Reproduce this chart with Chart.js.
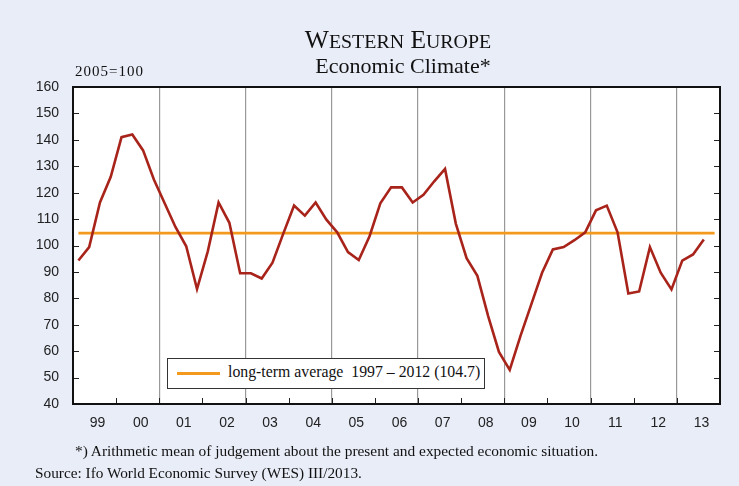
<!DOCTYPE html>
<html>
<head>
  <meta charset="utf-8">
  <title>Western Europe Economic Climate</title>
  <script src="https://cdn.jsdelivr.net/npm/chart.js"></script>
  <style>
    body { margin: 0; background: #e9edf8; }
    #wrap { position: relative; width: 739px; height: 486px; overflow: hidden; }
    canvas { position: absolute; left: 0; top: 0; }
    .txt { position: absolute; font-family: "Liberation Serif", "Times New Roman", serif; color: #111; white-space: nowrap; }
    #title1 { left: 248px; width: 300px; top: 25px; font-size: 25.5px; text-align: center; }
    #title1 .sc { font-size: 0.78em; }
    #title2 { left: 253px; width: 300px; top: 53px; font-size: 22px; text-align: center; }
    #unit { left: 75px; top: 63px; font-size: 15px; letter-spacing: 1px; }
    #note { left: 75px; top: 442px; font-size: 15.4px; }
    #source { left: 35px; top: 464px; font-size: 15.3px; }
    #legend { position: absolute; left: 167px; top: 358px; width: 316px; height: 29px; border: 1px solid #333; background: #fff; }
    #legend .swatch { position: absolute; left: 9px; top: 13px; width: 43px; height: 3px; background: #f39a1e; }
    #legend .txt { left: 60px; top: 4px; font-size: 15.8px; }
  </style>
</head>
<body>
<div id="wrap">
  <canvas id="chart" width="739" height="486"></canvas>
  <div class="txt" id="title1">W<span class="sc">ESTERN</span> E<span class="sc">UROPE</span></div>
  <div class="txt" id="title2">Economic Climate*</div>
  <div class="txt" id="unit">2005=100</div>
  <div id="legend"><div class="swatch"></div><div class="txt">long-term average&nbsp; 1997 – 2012 (104.7)</div></div>
  <div class="txt" id="note">*) Arithmetic mean of judgement about the present and expected economic situation.</div>
  <div class="txt" id="source">Source: Ifo World Economic Survey (WES) III/2013.</div>
</div>

<script>
  // year labels, one per 4 quarters
  const years = ["99", "00", "01", "02", "03", "04", "05", "06", "07", "08", "09", "10", "11", "12", "13"];

  // economic climate, quarterly 1999 Q1 .. 2013 Q3
  const climate = [
    94.3, 99.4, 116.3, 126,     // 1999
    141, 142, 136, 125,         // 2000
    116, 107, 99.7, 83.5,       // 2001
    97.8, 116.3, 108.6, 89.5,   // 2002
    89.5, 87.5, 93.5, 104.5,    // 2003
    115.1, 111.3, 116.3, 109.8, // 2004
    105, 97.5, 94.5, 103.5,     // 2005
    116, 122, 122, 116.3,       // 2006
    119.2, 124.3, 129, 108.3,   // 2007
    95.2, 88.5, 73.3, 59.7,     // 2008
    52.9, 65.8, 77.7, 89.7,     // 2009
    98.5, 99.4, 102, 105,       // 2010
    113.3, 115.1, 105, 81.8,    // 2011
    82.6, 99.4, 89.7, 83.4,     // 2012
    94.3, 96.6, 102.3           // 2013
  ];

  const longTermAverage = 104.7;
  const yTicks = [40, 50, 60, 70, 80, 90, 100, 110, 120, 130, 140, 150, 160];

  const nQuarters = years.length * 4;
  const climatePoints = climate.map((v, i) => ({ x: i + 0.5, y: v }));
  const averagePoints = [{ x: 0.5, y: longTermAverage }, { x: nQuarters - 0.5, y: longTermAverage }];

  // frame and inward tick marks
  const framePlugin = {
    id: "frame",
    afterDraw(chart) {
      const { ctx, chartArea: a, scales } = chart;
      ctx.save();
      ctx.strokeStyle = "#222";
      ctx.lineWidth = 1;
      for (let q = 4; q < nQuarters; q += 4) {
        const x = Math.round(scales.x.getPixelForValue(q)) + 0.5;
        ctx.beginPath();
        ctx.moveTo(x, a.bottom);
        ctx.lineTo(x, a.bottom - 6);
        ctx.stroke();
      }
      yTicks.slice(1, -1).forEach(v => {
        const y = Math.round(scales.y.getPixelForValue(v)) + 0.5;
        ctx.beginPath();
        ctx.moveTo(a.left, y); ctx.lineTo(a.left + 6, y);
        ctx.moveTo(a.right, y); ctx.lineTo(a.right - 6, y);
        ctx.stroke();
      });
      ctx.lineWidth = 2;
      ctx.strokeStyle = "#111";
      ctx.strokeRect(a.left, a.top, a.right - a.left, a.bottom - a.top);
      ctx.restore();
    }
  };

  // white plot background
  const bgPlugin = {
    id: "plotBg",
    beforeDraw(chart) {
      const { ctx, chartArea: a } = chart;
      ctx.save();
      ctx.fillStyle = "#fff";
      ctx.fillRect(a.left, a.top, a.right - a.left, a.bottom - a.top);
      ctx.restore();
    }
  };

  new Chart(document.getElementById("chart"), {
    type: "line",
    data: {
      datasets: [
        {
          label: "Economic Climate",
          data: climatePoints,
          borderColor: "#a8231a",
          borderWidth: 2.6,
          pointRadius: 0,
          tension: 0
        },
        {
          label: "long-term average 1997 – 2012 (104.7)",
          data: averagePoints,
          borderColor: "#f39a1e",
          borderWidth: 2.6,
          pointRadius: 0
        }
      ]
    },
    options: {
      responsive: false,
      animation: false,
      events: [],
      layout: { padding: { top: 87, right: 19, left: 0, bottom: 0 } },
      plugins: { legend: { display: false }, tooltip: { enabled: false } },
      scales: {
        x: {
          type: "linear",
          min: 0,
          max: nQuarters,
          afterFit: s => { s.height = 82; },
          border: { display: false },
          grid: {
            drawTicks: false,
            lineWidth: 1.2,
            color: c => (c.tick && c.tick.value % 8 === 0 && c.tick.value > 0 && c.tick.value < nQuarters) ? "#999" : "rgba(0,0,0,0)"
          },
          ticks: {
            stepSize: 2,
            autoSkip: false,
            maxRotation: 0,
            padding: 11,
            labelOffset: 3,
            color: "#222",
            font: { family: "'Liberation Sans', Arial, sans-serif", size: 14 },
            callback: v => (v % 4 === 2 ? years[(v - 2) / 4] : "")
          }
        },
        y: {
          min: 40,
          max: 160,
          afterFit: s => { s.width = 73; },
          border: { display: false },
          grid: { display: false, drawTicks: false },
          ticks: {
            stepSize: 10,
            padding: 14,
            color: "#222",
            font: { family: "'Liberation Sans', Arial, sans-serif", size: 14 }
          }
        }
      }
    },
    plugins: [bgPlugin, framePlugin]
  });
</script>
</body>
</html>
